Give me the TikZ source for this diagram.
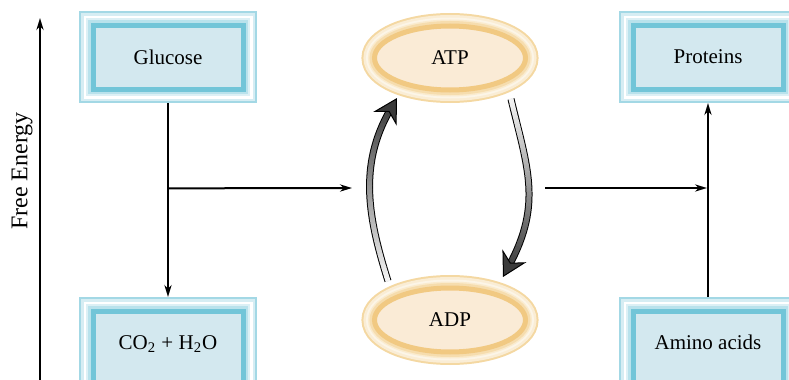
\documentclass[tikz,border=0pt]{standalone}
\usepackage{fontspec}
\setmainfont{Liberation Serif}
\usetikzlibrary{arrows.meta,shapes.geometric,calc}

\definecolor{boxline}{HTML}{72C5D8}
\definecolor{boxpale}{HTML}{A3D8E5}
\definecolor{boxmid}{HTML}{B9E2EC}
\definecolor{boxfill}{HTML}{D3E8EF}
\definecolor{ovalline}{HTML}{F1C982}
\definecolor{ovalpale}{HTML}{F4D8A2}
\definecolor{ovalmid}{HTML}{F6DDAE}
\definecolor{ovalfill}{HTML}{FAEBD6}
\definecolor{ribbondark}{HTML}{444444}
\definecolor{ribbonlight}{HTML}{F2F2F2}
\definecolor{headgray}{HTML}{3A3A3A}

\begin{document}
\begin{tikzpicture}[x=0.5pt, y=-0.5pt, >={Stealth[length=6pt,width=3.6pt]},
    framebox/.style={rectangle, fill=boxfill, draw=boxline, line width=2.5pt,
        minimum width=75pt, minimum height=32pt, outer sep=7pt,
        font=\fontsize{10.5}{12}\selectfont,
        preaction={draw=boxpale, line width=14pt},
        preaction={draw=boxpale!45!white, line width=12pt},
        preaction={draw=white, line width=9.5pt},
        preaction={draw=boxmid!50!white, line width=7pt},
        preaction={draw=boxmid, line width=5pt}},
    lowbox/.style={framebox, minimum height=37pt, text height=7.5pt, text depth=6.5pt},
    oval/.style={ellipse, fill=ovalfill, draw=ovalline, line width=2.5pt,
        minimum width=75.5pt, minimum height=32pt,
        font=\fontsize{10.5}{12}\selectfont,
        preaction={draw=ovalpale, line width=13pt},
        preaction={draw=ovalpale!45!white, line width=11pt},
        preaction={draw=white!70!ovalmid, line width=8.5pt},
        preaction={draw=ovalmid!60!white, line width=6.5pt},
        preaction={draw=ovalmid, line width=5pt}},
    flow/.style={->, line width=1pt}]
    \useasboundingbox (0,0) rectangle (789,380);
    \clip (0,0) rectangle (789,380);

    \node[framebox] (glucose) at (168,57) {Glucose};
    \node[lowbox] (co2) at (168,348) {CO\textsubscript{2} + H\textsubscript{2}O};
    \node[framebox] (proteins) at (708,57) {Proteins};
    \node[lowbox] (amino) at (708,348) {Amino acids};
    \node[oval] (atp) at (450,58) {ATP};
    \node[oval] (adp) at (450,320) {ADP};
    \node[rotate=90, font=\fontsize{12}{14}\selectfont] (axislabel) at (22,171) {Free Energy};

    \coordinate (axisbot) at (40,380);
    \coordinate (axistop) at (40,18);
    \coordinate (split) at ($(glucose.south)!0.44!(co2.north)$);
    \coordinate (cyclein) at (352,188);
    \coordinate (cycleout) at (545,188);
    \coordinate (join) at (proteins.south |- cycleout);

    \draw[flow] (axisbot) -- (axistop);
    \draw[flow] (glucose.south) -- (co2.north);
    \draw[flow] (split) -- (cyclein);
    \draw[flow, shorten >=0.5pt] (cycleout) -- (join);
    \draw[flow] (amino.north) -- (proteins.south);

    % shaded ribbons between ADP and ATP
    \coordinate (uptail) at ($(adp.center)+(-62,-39)$);
    \coordinate (uptip) at ($(atp.center)+(-53,40)$);
    \coordinate (uphead) at ($(uptip)+(-7,12)$);
    \coordinate (downtail) at ($(atp.center)+(61,41)$);
    \coordinate (downtip) at ($(adp.center)+(53,-43)$);
    \coordinate (downhead) at ($(downtip)+(6.6,-12.3)$);

    \foreach \arr/\ca/\cb in {up/{-19.5,-62}/{-32,56}, down/{16.1,67.9}/{32.9,-61.6}} {
        \draw[line width=3.5pt] (\arr tail) .. controls +(\ca) and +(\cb) .. (\arr head);
        \foreach \i [evaluate=\i as \t using \i/40] in {0,...,40}
            \path (\arr tail) .. controls +(\ca) and +(\cb) .. (\arr head) coordinate[pos=\t] (\arr\i);
        \foreach \i [count=\j from 1, evaluate=\i as \pc using 100*\i/39] in {0,...,39}
            \draw[line width=2.5pt, shorten <=-0.3pt, ribbondark!\pc!ribbonlight] (\arr\i) -- (\arr\j);
        \draw[line width=0.5pt, -{Stealth[length=12pt,width=13.5pt,fill=headgray]}] (\arr head) -- (\arr tip);
    }
\end{tikzpicture}
\end{document}
